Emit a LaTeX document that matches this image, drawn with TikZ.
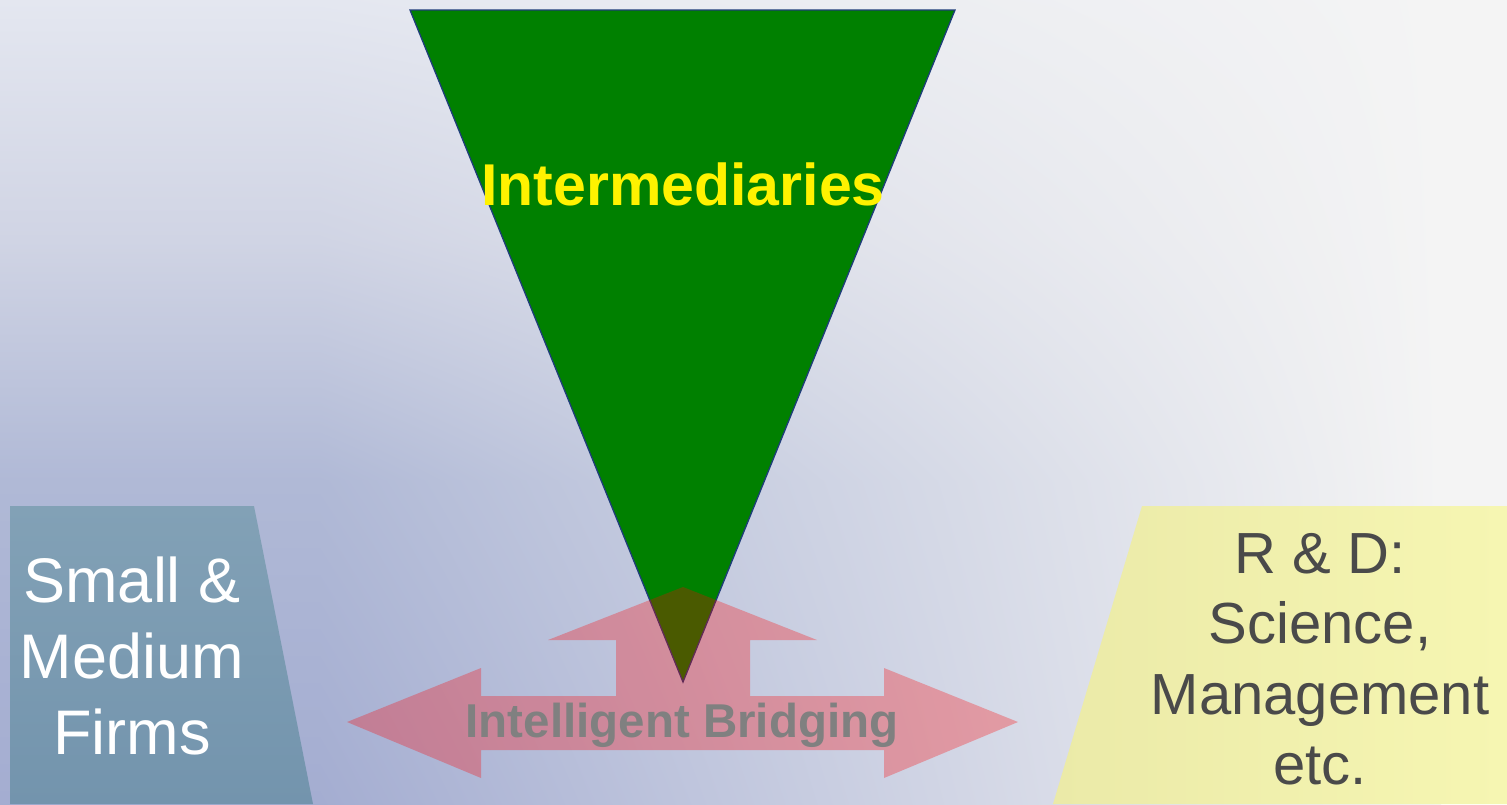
\documentclass[tikz,border=0pt]{standalone}
\usepackage{fontspec}
\setmainfont{Liberation Sans}
\usetikzlibrary{shadings}
\definecolor{bgtop}{HTML}{E4E7F0}
\definecolor{bgmid}{HTML}{D0D4E4}
\definecolor{bglow}{HTML}{B0B9D6}
\definecolor{bgbot}{HTML}{A4ADD1}
\definecolor{bgright}{HTML}{F4F4F4}
\definecolor{smetop}{HTML}{82A1B6}
\definecolor{smebot}{HTML}{7394AD}
\definecolor{rdleft}{HTML}{EBEAA8}
\definecolor{rdright}{HTML}{F6F6B2}
\definecolor{rdtext}{HTML}{4A4A4A}
\definecolor{trigreen}{HTML}{008000}
\definecolor{triline}{HTML}{1F3D7A}
\definecolor{bridgetext}{HTML}{808080}
\tikzset{
  bigtext/.style={inner sep=0pt, align=center, font=\fontsize{63}{76}\selectfont},
  rdtextstyle/.style={inner sep=0pt, align=center, text=rdtext, font=\fontsize{58}{70.5}\selectfont},
  arrowfill/.style={fill=red, fill opacity=0.29},
}
\begin{document}
\begin{tikzpicture}[x=1pt,y=-1pt]
\useasboundingbox (0,0) rectangle (1507,804);
% background: left columns (vertical gradient)
\shade[top color=bgtop, bottom color=bgmid] (0,0) rectangle (321,241);
\shade[top color=bgmid, bottom color=bglow] (0,240) rectangle (321,481);
\shade[top color=bglow, bottom color=bgbot] (0,480) rectangle (321,804);
% background: fading towards the right
\shade[upper left=bgtop, lower left=bgmid, upper right=bgright, lower right=bgright] (320,0) rectangle (1441,241);
\shade[upper left=bgmid, lower left=bglow, upper right=bgright, lower right=bgright] (320,240) rectangle (1441,481);
\shade[upper left=bglow, lower left=bgbot, upper right=bgright, lower right=bgright] (320,480) rectangle (1441,804);
\fill[bgright] (1440,0) rectangle (1507,804);
% left box
\shade[top color=smetop, bottom color=smebot] (10,506) -- (254,506) -- (313,804) -- (10,804) -- cycle;
\node[bigtext, text=white, anchor=north] (sme) at (132,557) {Small \&\\Medium\\Firms};
% right box
\shade[left color=rdleft, right color=rdright] (1142,506) -- (1507,506) -- (1507,804) -- (1053,804) -- cycle;
\node[rdtextstyle, anchor=north] (rd) at (1320,533) {R \& D:\\Science,\\Management\\etc.};
% triangle
\coordinate (tl) at (410,10);
\coordinate (tr) at (955,10);
\coordinate (apex) at (683,682);
\filldraw[fill=trigreen, draw=triline, line width=1.3pt, line join=miter] (tl) -- (tr) -- (apex) -- cycle;
\node[inner sep=0pt, anchor=base, text=yellow, font=\bfseries\fontsize{59}{70}\selectfont] (inter) at (683,205) {Intermediaries};
% bridging arrow
\path[arrowfill] (347,722) -- (481,668) -- (481,696) -- (616,696) -- (616,640) -- (548,640)
  -- (683,587) -- (817,640) -- (750,640) -- (750,696) -- (884,696) -- (884,668)
  -- (1018,722) -- (884,778) -- (884,750) -- (481,750) -- (481,778) -- cycle;
\node[inner sep=0pt, anchor=base, text=bridgetext, font=\bfseries\fontsize{47.5}{57}\selectfont] (bridge) at (682,737) {Intelligent Bridging};
\end{tikzpicture}
\end{document}
